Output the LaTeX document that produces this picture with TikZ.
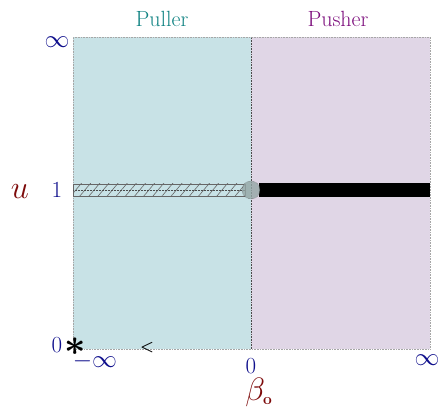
\documentclass[tikz,border=0pt]{standalone}
\usetikzlibrary{patterns.meta}
\definecolor{pullfill}{RGB}{200,226,230}
\definecolor{pushfill}{RGB}{224,214,230}
\definecolor{pulltxt}{RGB}{15,130,130}
\definecolor{pushtxt}{RGB}{125,15,125}
\definecolor{numblue}{RGB}{15,15,140}
\definecolor{axred}{RGB}{125,10,10}
\definecolor{hatchfill}{RGB}{175,205,210}
\tikzset{
  region/.style={draw=gray!70, densely dotted, line width=0.6pt},
  num/.style={text=numblue, font=\fontsize{23}{27}\selectfont, inner sep=0pt},
  axlab/.style={text=axred, font=\fontsize{24}{28}\selectfont, inner sep=0pt},
  head/.style={font=\fontsize{22}{26}\selectfont, inner sep=0pt},
}
\begin{document}
\begin{tikzpicture}[x=1pt,y=1pt]
\useasboundingbox (0,0) rectangle (440,411);
% regions
\fill[pullfill] (73,62) rectangle (251,374);
\fill[pushfill] (251,62) rectangle (430,374);
\draw[region] (73,62) rectangle (430,374);
\draw[black!70, densely dotted, line width=0.6pt] (251,62) -- (251,374);
% hatched bar
\draw[black!60, line width=0.6pt, fill=hatchfill, pattern={Lines[angle=50,distance=7pt,line width=0.6pt]}, pattern color=black!60] (73,215) rectangle (245,227);
\draw[black!70, densely dotted, line width=0.5pt] (73,221) -- (245,221);
% black bar
\fill[black] (259,214) rectangle (430,228);
% circle
\node (c) [circle, minimum size=18pt, inner sep=0pt, fill=gray!80!teal!70, fill opacity=0.8, draw=black!70, densely dotted] at (251,221) {};
% labels
\node (yinf) [num] at (57,369) {$\infty$};
\node (yone) [num] at (57,221) {1};
\node (yzero) [num] at (57,66) {0};
\node (u) [axlab] at (20,219) {\scalebox{1.3}{$u$}};
\node (xminf) [num] at (95,50) {$-\infty$};
\node (xzero) [num] at (251,45) {0};
\node (xinf) [num] at (427,51) {$\infty$};
\node (beta) [axlab] at (259,19) {\scalebox{1.3}{$\beta_{\scriptscriptstyle\mathbf{o}}$}};
\node (puller) [head, text=pulltxt] at (162,392) {Puller};
\node (pusher) [head, text=pushtxt] at (338,392) {Pusher};
\node (star) [inner sep=0pt, font=\fontsize{24}{28}\selectfont\boldmath] at (75.5,64) {\scalebox{1.5}{$\ast$}};
\node (lt) [inner sep=0pt, font=\fontsize{12}{14}\selectfont\boldmath] at (147,63) {\scalebox{1.3}{$<$}};
\end{tikzpicture}
\end{document}
